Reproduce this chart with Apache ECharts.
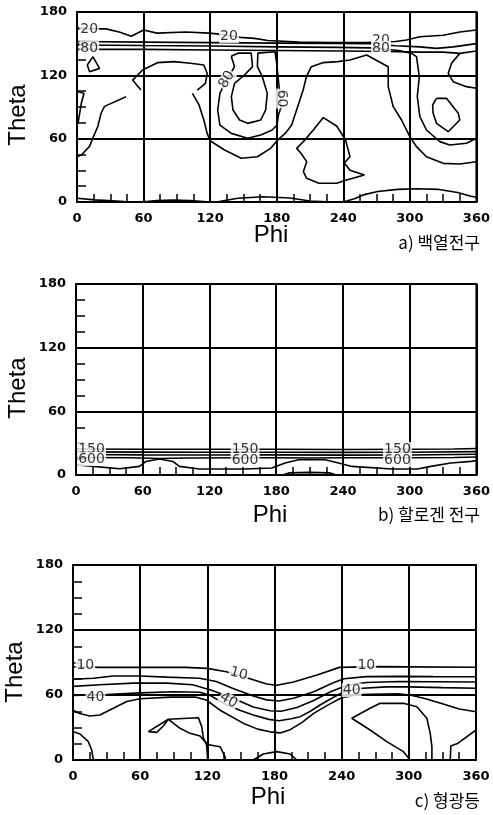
<!DOCTYPE html>
<html>
<head>
<meta charset="utf-8">
<script src="https://cdn.jsdelivr.net/npm/echarts@6/dist/echarts.min.js"></script>
<style>
html, body { margin: 0; padding: 0; background: #fff; }
#chart { width: 493px; height: 815px; }
</style>
</head>
<body>
<div id="chart"></div>
<script>
// 축 눈금
const phiTicks = [0, 60, 120, 180, 240, 300, 360]
const thetaTicks = [0, 60, 120, 180]

// a) 백열전구 - 등고선 [phi, theta]
const aBand20 = [[0,164],[26,164],[38,161],[49,157],[60,163],[72,160],[98,161],[119,160],[128,159],[147,156],[160,155],[172,153],[200,151.5],[230,151],[260,151],[287,152],[297,153.5],[309,156.6],[330,158],[345,161],[360,163]]
const aBand40 = [[0,152],[60,151.5],[120,151],[180,150.5],[233,150.3],[265,150],[287,148],[309,147],[324,145.5],[339,147],[360,150]]
const aBand60 = [[0,148.7],[60,148.2],[120,147.8],[180,147],[233,146.5],[265,146],[290,143.5],[301.6,140.8],[306,137.7],[308.5,118.7],[306.7,99.8],[309,80.8],[315,68.2],[327,57.2],[336,54],[351,55.6],[360,60.3]]
const aBand80 = [[0,144.6],[60,144.6],[120,144],[180,143.5],[240,143],[280,142.6],[310,142],[330,142],[345,140.8],[360,143]]
const aBulge = [[345,140.8],[337.6,131.4],[334.6,121.9],[339,114],[351,109.3],[360,107.7]]
const aLoopR = [[324,98.2],[333,98.2],[343.6,84],[345,77.7],[334.6,66.6],[324,74.5],[321,84],[320.5,91.9],[324,98.2]]
const aLong = [[104,103],[110,92],[114.3,77.7],[117.3,65],[120,58],[133,49.3],[148,41.4],[162.6,42.9],[174.4,50.8],[180.3,58.1],[187.6,65],[193.5,72.9],[197.9,87.1],[203.8,106.1],[206.8,118.7],[211.2,128.2],[221.5,132],[235,133],[246,134.5],[261,139.2],[280.5,128.2],[280.5,109.3],[285,90.3],[292.5,77.7],[300,61.9],[306,52.4],[315,42.9],[330,36.6],[345,36],[360,38.2]]
const aHorse = [[139,138],[145,141],[157,141],[158.2,128.2],[150.9,120.3],[142,112.4],[139.1,99.8],[140.6,87.1],[146.5,77.7],[153.8,74.5],[165.6,77.7],[170,87.1],[171.5,102.9],[167,118.7],[162.6,128.2],[163,141],[178.5,142.3],[180,131.3],[181.5,115.5],[183,100],[184,90],[181.5,82.4],[180.3,72.9],[175.9,68.2],[165.6,63.5],[153.8,60.3],[139.1,65],[128.8,72.9],[126.8,87.1],[128.8,103],[133,112],[142,128.2],[139,138]]
const aTop60 = [[57.6,106],[50.1,115.5],[59.1,125],[72.5,132],[87.5,133],[102.4,131.4],[114.3,129.8],[117.3,121.9],[115.8,112.4],[108.4,106]]
const aLeft1 = [[44.2,99.8],[24.8,90.6],[21.8,84.3],[18.8,71.7],[14.3,60.6],[11.3,52.7],[3.9,44.5],[0,42.9]]
const aLeft2 = [[0.9,104.5],[6.3,103],[3.9,93.5],[2.4,84],[0.9,74.5]]
const aDrop = [[14.3,137.7],[20.3,126.6],[11.3,123.5],[9.3,129.8],[14.3,137.7]]
const aTri = [[222,80],[234,72],[242,59],[246,43],[241,37],[246,30],[259,25.6],[243,20.8],[234,17.7],[218,17.7],[207,22.4],[204,28.7],[207,38.2],[202,46],[198,50.8],[204,57.2],[213,68.2],[222,80]]
const aBottom = [[0,3.5],[16,2],[43,0.5],[58,0],[72,1.3],[87,1.9],[102,1.3],[120,0],[127,0.3],[145,3.5],[168,5],[192,3.8],[210,1],[225,0.3],[240,0]]
const aHump = [[240,0],[250,3],[259,7],[271,10],[289,12],[307,12.5],[325,12],[343,9],[355,5.5],[360,4.5]]
const aLabels = [[11,164,'20',0],[137,157,'20',0],[274,153,'20',0],[11,146,'80',0],[274,146,'80',0],[135,116,'80',60],[184,98,'60',-90]]

// b) 할로겐 전구
const b150 = [[0,24.5],[60,24.3],[120,24.2],[180,24.3],[240,24],[300,24.2],[340,24.5],[360,25]]
const b300 = [[0,21.8],[60,21.6],[120,21.4],[180,21.5],[240,21.3],[300,21.4],[360,22]]
const b450 = [[0,19.3],[60,19],[120,18.8],[180,19],[240,18.7],[300,18.9],[360,19.5]]
const b600 = [[0,16.5],[50,16.2],[75,15.6],[100,16],[150,16.3],[180,16.3],[210,16],[240,16.2],[300,16.2],[340,16.5],[360,17]]
const bWave = [[0,9.7],[15.5,8.1],[39.3,5.9],[57,8.1],[63,12.8],[75,15],[87,12.8],[93,8.1],[111,5.6],[152,5.6],[176,6.6],[188,11.3],[200,14.4],[224,14.4],[236,11.3],[248,8.1],[284,5.6],[307,5.6],[319,8.1],[337,11.3],[355,12.8],[360,13.5]]
const bFloor = [[186,0],[192,2],[210,2.5],[228,2],[234,0]]
const bLabels = [[14,24.5,'150',0],[14,15,'600',0],[152,24.5,'150',0],[152,14,'600',0],[289,24.5,'150',0],[289,14,'600',0]]

// c) 형광등
const c10 = [[0,86],[25,85.5],[60,85.5],[100,85.5],[120,84.6],[137,81.5],[150,77.5],[161,74],[173,70.2],[182,69],[197,72],[218,78.5],[238,85.5],[274,86.2],[300,86],[360,85.6]]
const c20 = [[0,74.5],[18,75.5],[36,77.5],[60,77.5],[84,76.5],[113,75.5],[128,72.5],[143,66],[161,59],[173,55.5],[184,54.5],[197,57],[215,63],[232,71],[242,75],[262,77],[292,77.2],[322,77],[360,76.9]]
const c30 = [[0,68],[24,69.5],[54,71],[84,71],[107,69.5],[125,64],[143,57],[161,49],[176,45.5],[186,45],[200,48.5],[215,55],[230,63],[245,69],[262,71.5],[292,72.5],[322,72.3],[360,72]]
const c40 = [[0,59.5],[30,60.5],[60,62],[90,63],[113,62.5],[122,60],[135,52],[149,46],[161,41.5],[175,37.5],[184,36.3],[195,38],[203,40],[212,45],[221,51],[232,57.5],[240,62],[255,66],[280,67.5],[300,67.5],[330,66.8],[360,66.2]]
const c50 = [[0,46],[6,43],[15,40.6],[24,41.5],[36,47.7],[48,54],[60,56.5],[87,58],[110,58],[119,55.4],[131,46.2],[152,34],[165,28.5],[176,26],[185,25],[194,28],[205,35],[215,43],[230,52],[240,57.5],[256,60.5],[290,61],[301,60],[315,56.5],[330,52],[345,47],[360,44.6]]
const cWedge = [[67.3,26.2],[85.2,37.6],[80.7,31.4],[74.8,25.5],[67.3,26.2]]
const cBranch1 = [[85.2,37.6],[112,39],[115,30.8],[116.5,20.3],[119.4,13.8],[120.3,0]]
const cBranch2 = [[85.2,37.6],[95.6,29.3],[104.6,24.6],[113.5,22.2],[118,16.9],[122.4,13.8],[131.4,12.3],[135.8,3.1],[136,0]]
const cCornerL = [[0,26.2],[6.3,24],[13.7,16.9],[16.7,9.2],[18.2,0]]
const cHump = [[161,0],[170,5.5],[182,7.7],[194,5.5],[200,0]]
const cLoopR = [[320.6,0],[320.6,12.3],[319.1,24.6],[316.1,38.5],[307.2,49.2],[295.2,52.3],[274.4,52.3],[265.4,47.7],[249,38.5],[265.4,27.7],[280.3,17],[295.2,7.7],[301.2,0]]
const cCornerR = [[337,0],[337.5,13],[344,15.5],[360,27.7]]
const cLabels = [[11,87,'10',0],[148,79.5,'10',-15],[262,87,'10',0],[20,57.5,'40',0],[139,55,'40',-30],[249,64.5,'40',0]]

const panels = [
  { grid: { left: 77, top: 12, width: 403, height: 190 },
    lines: [aBand20, aBand40, aBand60, aBand80, aBulge, aLoopR, aLong, aHorse, aTop60, aLeft1, aLeft2, aDrop, aTri, aBottom, aHump],
    labels: aLabels, caption: 'a) 백열전구', theta: [18, 115], phi: [271, 235], capY: 243 },
  { grid: { left: 76, top: 284, width: 403, height: 191 },
    lines: [b150, b300, b450, b600, bWave, bFloor],
    labels: bLabels, caption: 'b) 할로겐 전구', theta: [18, 388], phi: [270, 515], capY: 515 },
  { grid: { left: 73, top: 565, width: 403, height: 195 },
    lines: [c10, c20, c30, c40, c50, cWedge, cBranch1, cBranch2, cCornerL, cHump, cLoopR, cCornerR],
    labels: cLabels, caption: 'c) 형광등', theta: [15, 672], phi: [268, 797], capY: 801 }
]

const chart = echarts.init(document.getElementById('chart'))

const tickFont = { color: '#000', fontFamily: 'DejaVu Sans', fontWeight: 'bold', fontSize: 13 }

const grids = []
const xAxes = []
const yAxes = []
const series = []
const graphics = []

panels.forEach((p, i) => {
  grids.push(Object.assign({ show: true, borderColor: '#000', borderWidth: 2, backgroundColor: '#fff' }, p.grid))
  xAxes.push({
    gridIndex: i, type: 'value',
    min: phiTicks[0], max: phiTicks[phiTicks.length - 1], interval: 60,
    axisLine: { show: true, lineStyle: { color: '#000', width: 2 } },
    axisTick: { show: false, inside: true },
    minorTick: { show: true, splitNumber: 4, length: 8, lineStyle: { color: '#000', width: 1.5 } },
    splitLine: { show: true, lineStyle: { color: '#000', width: 2 } },
    axisLabel: Object.assign({ margin: 10 }, tickFont)
  })
  yAxes.push({
    gridIndex: i, type: 'value',
    min: thetaTicks[0], max: thetaTicks[thetaTicks.length - 1], interval: 60,
    axisLine: { show: true, lineStyle: { color: '#000', width: 2 } },
    axisTick: { show: false, inside: true },
    minorTick: { show: true, splitNumber: 4, length: 9, lineStyle: { color: '#000', width: 1.5 } },
    splitLine: { show: true, lineStyle: { color: '#000', width: 2 } },
    axisLabel: Object.assign({ margin: 10 }, tickFont)
  })
  // 등고선
  p.lines.forEach(d => {
    series.push({
      type: 'line', xAxisIndex: i, yAxisIndex: i, data: d,
      symbol: 'none', silent: true, z: 3,
      lineStyle: { color: '#000', width: 1.6 }
    })
  })
  // 등고선 값 라벨
  series.push({
    type: 'scatter', xAxisIndex: i, yAxisIndex: i, symbolSize: 1, z: 5, silent: true,
    itemStyle: { color: 'rgba(0,0,0,0)' },
    label: {
      show: true, position: 'inside', color: '#000', fontFamily: 'DejaVu Sans', fontSize: 14,
      backgroundColor: '#fff', padding: [0, 1]
    },
    data: p.labels.map(l => ({ value: [l[0], l[1]], label: { formatter: l[2], rotate: l[3] } }))
  })
  graphics.push({
    type: 'text', x: p.theta[0], y: p.theta[1], rotation: Math.PI / 2,
    style: { text: 'Theta', font: '24px "Liberation Sans"', fill: '#000', textAlign: 'center', textVerticalAlign: 'middle' }
  })
  graphics.push({
    type: 'text', x: p.phi[0], y: p.phi[1],
    style: { text: 'Phi', font: '24px "Liberation Sans"', fill: '#000', textAlign: 'center', textVerticalAlign: 'middle' }
  })
  graphics.push({
    type: 'text', x: 480, y: p.capY,
    style: { text: p.caption, font: '17px "Noto Sans CJK KR"', fill: '#000', textAlign: 'right', textVerticalAlign: 'middle' }
  })
})

chart.setOption({
  animation: false,
  backgroundColor: '#fff',
  grid: grids,
  xAxis: xAxes,
  yAxis: yAxes,
  series: series,
  graphic: graphics
})
</script>
</body>
</html>
